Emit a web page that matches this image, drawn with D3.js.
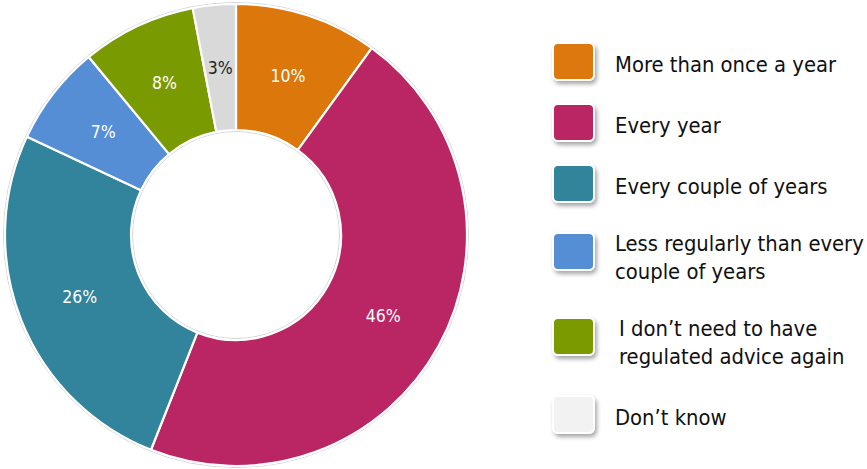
<!DOCTYPE html>
<html>
<head>
<meta charset="utf-8">
<script src="https://cdn.jsdelivr.net/npm/d3@7"></script>
<style>
  html, body { margin: 0; padding: 0; background: #fff; }
  svg { display: block; }
  .lbl { font-family: "DejaVu Sans", sans-serif; font-stretch: condensed; }
</style>
</head>
<body>
<svg id="chart" width="867" height="469"></svg>
<script>
// How often respondents expect to take regulated advice (share of respondents, %)
const categories = [
  "More than once a year",
  "Every year",
  "Every couple of years",
  "Less regularly than every couple of years",
  "I don\u2019t need to have regulated advice again",
  "Don\u2019t know"
];
const values = [10, 46, 26, 7, 8, 3];
const sliceColors = ["#dc780b", "#ba2663", "#31849b", "#558ed5", "#7a9a01", "#d9d9d9"];
const swatchColors = ["#dc780b", "#ba2663", "#31849b", "#558ed5", "#7a9a01", "#f2f2f2"];
const labelColors = ["#fff", "#fff", "#fff", "#fff", "#fff", "#222"];
// Legend text broken into display lines
const legendLines = [
  ["More than once a year"],
  ["Every year"],
  ["Every couple of years"],
  ["Less regularly than every", "couple of years"],
  ["I don\u2019t need to have", "regulated advice again"],
  ["Don\u2019t know"]
];

const svg = d3.select("#chart");
const cx = 236, cy = 235, rOuter = 231, rInner = 105;

const data = categories.map((c, i) => ({ name: c, value: values[i], i }));

const pie = d3.pie().value(d => d.value).sort(null);
const arc = d3.arc().innerRadius(rInner).outerRadius(rOuter);
const labelArc = d3.arc().innerRadius(168).outerRadius(168);

const g = svg.append("g").attr("transform", `translate(${cx},${cy})`);

// faint outline around the ring
g.append("circle").attr("r", rOuter + 1.5).attr("fill", "none")
  .attr("stroke", "#c8c8c8").attr("stroke-width", 0.8);
g.append("circle").attr("r", rInner - 1.5).attr("fill", "none")
  .attr("stroke", "#c8c8c8").attr("stroke-width", 0.8);

const arcs = pie(data);

g.selectAll("path.slice").data(arcs).join("path")
  .attr("class", "slice")
  .attr("d", arc)
  .attr("fill", d => sliceColors[d.data.i])
  .attr("stroke", "#fff")
  .attr("stroke-width", 2.2)
  .attr("stroke-linejoin", "round");

g.selectAll("text.val").data(arcs).join("text")
  .attr("class", "val lbl")
  .attr("transform", d => `translate(${labelArc.centroid(d)})`)
  .attr("text-anchor", "middle")
  .attr("dy", "0.36em")
  .attr("font-size", 17.5)
  .attr("fill", d => labelColors[d.data.i])
  .text(d => d.data.value + "%");

// Legend
const defs = svg.append("defs");
const flt = defs.append("filter").attr("id", "sh")
  .attr("x", "-30%").attr("y", "-30%").attr("width", "170%").attr("height", "170%");
flt.append("feDropShadow").attr("dx", 2).attr("dy", 3).attr("stdDeviation", 2)
  .attr("flood-color", "#000").attr("flood-opacity", 0.35);

const legend = svg.append("g").attr("transform", "translate(553,0)");
let cursor = 61.5;
data.forEach((d, i) => {
  const lines = legendLines[i];
  const extra = lines.length - 1;
  const center = cursor + extra * 7;
  cursor += 61 + extra * 24;
  const item = legend.append("g");
  item.append("rect")
    .attr("x", 0).attr("y", center - 18.5)
    .attr("width", 41).attr("height", 37)
    .attr("rx", 5).attr("ry", 5)
    .attr("fill", swatchColors[i])
    .attr("stroke", "#fff").attr("stroke-width", 2)
    .attr("filter", "url(#sh)");
  const firstBase = center + 10 - extra * 11;
  const tx = i === 4 ? 66 : 62;
  const t = item.append("text").attr("class", "lbl")
    .attr("x", tx)
    .attr("font-size", 21.8)
    .attr("fill", "#111");
  lines.forEach((ln, k) => {
    t.append("tspan").attr("x", tx)
      .attr("y", firstBase + k * 28).text(ln);
  });
});
</script>
</body>
</html>
